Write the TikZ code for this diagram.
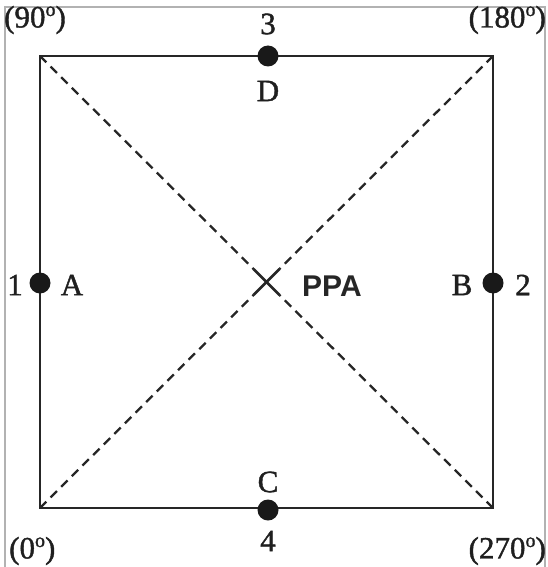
\documentclass[tikz,border=0pt]{standalone}
\usepackage{fontspec}
\setmainfont[FakeBold=1.3]{Liberation Serif}
\newfontfamily\ppafont{Liberation Sans}
\newcommand{\ordo}{\raisebox{11.5pt}{\fontsize{20}{20}\selectfont o}}
\begin{document}
\begin{tikzpicture}[x=1pt,y=-1pt,
  frame/.style={draw=black!30,line width=1.2pt},
  side/.style={draw=black!85,line width=2.8pt,line cap=rect},
  diag/.style={draw=black!85,line width=2.3pt,dash pattern=on 9pt off 6pt},
  cross/.style={draw=black!85,line width=2.5pt},
  dot/.style={circle,fill=black!90,inner sep=0pt,minimum size=21pt},
  lab/.style={font=\fontsize{31}{31}\selectfont,text=black!88,inner sep=0pt},
  ppa/.style={font=\ppafont\bfseries\fontsize{30}{30}\selectfont,text=black!85,inner sep=0pt}]
\useasboundingbox (0,0) rectangle (547,567);
% frame
\draw[frame] (5,570) -- (5,7) -- (545,7) -- (545,570);
% corners
\coordinate (TL) at (40,56);
\coordinate (TR) at (493,56);
\coordinate (BR) at (493,508);
\coordinate (BL) at (40,508);
\coordinate (x1) at (253.5,269);
\coordinate (x2) at (279.5,295);
\coordinate (x3) at (279.5,269);
\coordinate (x4) at (253.5,295);
% square
\draw[side] (TL) -- (TR) -- (BR) -- (BL) -- cycle;
% diagonals
\draw[diag] (TL) -- (x1);
\draw[diag] (BR) -- (x2);
\draw[diag] (TR) -- (x3);
\draw[diag] (BL) -- (x4);
\draw[cross] (x1) -- (x2);
\draw[cross] (x3) -- (x4);
% dots
\node[dot] (D) at (268,56) {};
\node[dot] (C) at (268,510) {};
\node[dot] (A) at (40,283) {};
\node[dot] (B) at (493,283) {};
% labels
\node[lab] (l3) at (268,24) {3};
\node[lab] (lD) at (268,91) {D};
\node[lab] (lC) at (268,482) {C};
\node[lab] (l4) at (268,541) {4};
\node[lab] (l1) at (15,285) {1};
\node[lab] (lA) at (72,285) {A};
\node[lab] (lB) at (462,285) {B};
\node[lab] (l2) at (523,285) {2};
\node[lab,anchor=west] (a90) at (4,20) {(90\ordo)};
\node[lab,anchor=east] (a180) at (546,20) {(180\ordo)};
\node[lab,anchor=west] (a0) at (9,551) {(0\ordo)};
\node[lab,anchor=east] (a270) at (546,551) {(270\ordo)};
\node[ppa,anchor=west] (P) at (302,286) {PPA};
\end{tikzpicture}
\end{document}
